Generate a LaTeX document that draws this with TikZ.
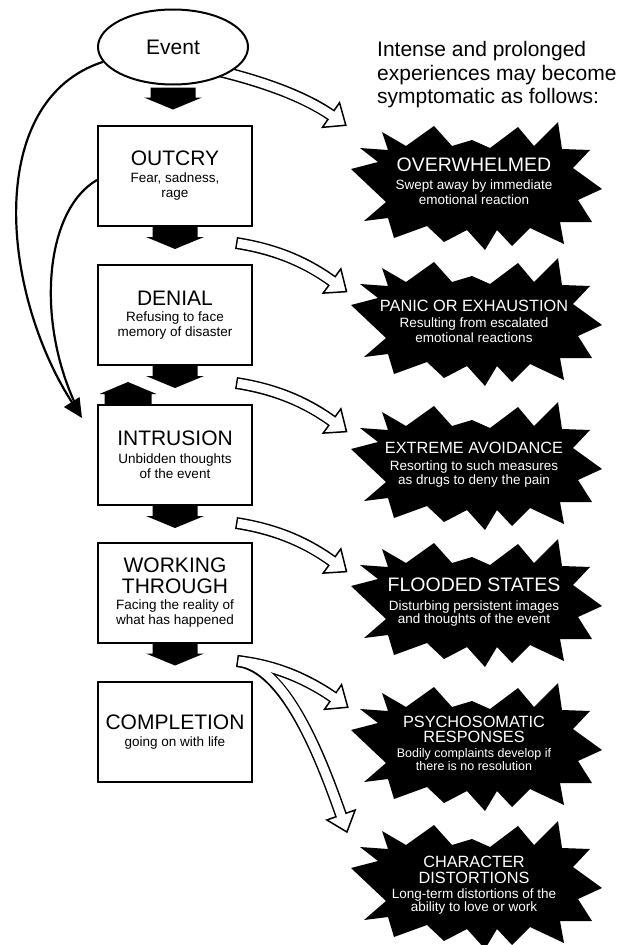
\documentclass[tikz,border=0pt]{standalone}
\usepackage{fontspec}
\setmainfont{Liberation Sans}
\usetikzlibrary{shapes.geometric,arrows.meta,calc}
\newcommand\ttlfont{\fontsize{21}{21}\selectfont}
\newcommand\sbfont{\fontsize{13.5}{15}\selectfont\lineskiplimit=-100pt\relax}
\newcommand\btsmall{\fontsize{16.3}{16}\selectfont}
\newcommand\btbig{\fontsize{19.5}{19}\selectfont}
\newcommand\bsfont{\fontsize{13.5}{14.5}\selectfont\lineskiplimit=-100pt\relax}
\newcommand\bssmall{\fontsize{12.5}{14}\selectfont}
\newcommand\hdrfont{\fontsize{21}{23.5}\selectfont\lineskiplimit=-100pt\relax}
\newcommand\dnarrow[1]{\fill[shift={(#1)}] (-22.5,0) -- (22.5,0) -- (22.5,10) -- (29,10) -- (0,22) -- (-29,10) -- (-22.5,10) -- cycle;}
\newcommand\uparrowblk[1]{\fill[shift={(#1)}] (-23.5,0) -- (23.5,0) -- (23.5,-10) -- (28.5,-10) -- (0,-22) -- (-28.5,-10) -- (-23.5,-10) -- cycle;}
\newcommand\burstshape[1]{\fill[shift={(#1)}] (-90,-54) -- (-66,-40) -- (-38,-60) -- (-20,-40) -- (0,-46) -- (18,-38) -- (46,-59) -- (62,-40) -- (86,-64) -- (90,-37) -- (118,-36) -- (101,-18) -- (130,3) -- (106,14) -- (120,36) -- (88,36) -- (92,58) -- (58,42) -- (40,60) -- (25,44) -- (13,64) -- (-5,44) -- (-28,56) -- (-45,40) -- (-78,52) -- (-84,32) -- (-108,35) -- (-86,16) -- (-121,-17) -- (-94,-24) -- (-112,-38) -- (-84,-36) -- cycle;}
\newcommand\hollowhead[2]{\filldraw[hhead] ($(#1)!15pt!90:(#2)$) -- ($(#1)!18pt!180:(#2)$) -- ($(#1)!15pt!-90:(#2)$) -- cycle;}
\begin{document}
\begin{tikzpicture}[x=1pt,y=-1pt,
  stage/.style={draw, line width=2pt, minimum width=154pt, minimum height=100pt, inner sep=0pt, align=center, font=\sbfont},
  btext/.style={text=white, align=center, inner sep=0pt, font=\bsfont},
  lcurve/.style={line width=2.2pt},
  hband/.style={line width=12pt, black},
  hinner/.style={line width=9pt, white},
  hhead/.style={fill=white, draw=black, line width=1.5pt, line join=miter},
]
\useasboundingbox (0,0) rectangle (627,945);

% hollow arrow end points
\coordinate (h1t) at (215,70);  \coordinate (h1b) at (331,115);
\coordinate (h2t) at (236,243); \coordinate (h2b) at (332,281);
\coordinate (h3t) at (236,383); \coordinate (h3b) at (332,421);
\coordinate (h4t) at (236,523); \coordinate (h4b) at (332,561);
\coordinate (h5t) at (237,661); \coordinate (h5b) at (333,697);
\coordinate (h6b) at (341,815);

% outer bands
\draw[hband] (h1t) .. controls (265,82) and (305,97) .. (h1b);
\draw[hband] (h2t) .. controls (275,249) and (306,262) .. (h2b);
\draw[hband] (h3t) .. controls (275,389) and (306,402) .. (h3b);
\draw[hband] (h4t) .. controls (275,529) and (306,542) .. (h4b);
\draw[hband] (h5t) .. controls (275,665) and (307,679) .. (h5b);
\draw[hband] (h5t) .. controls (285,666) and (320,755) .. (h6b);
% heads
\hollowhead{h1b}{305,97}
\hollowhead{h2b}{306,262}
\hollowhead{h3b}{306,402}
\hollowhead{h4b}{306,542}
\hollowhead{h5b}{307,679}
\hollowhead{h6b}{320,755}
% inner bands
\draw[hinner, shorten <=1.5pt, shorten >=-2.5pt] (h1t) .. controls (265,82) and (305,97) .. (h1b);
\draw[hinner, shorten <=1.5pt, shorten >=-2.5pt] (h2t) .. controls (275,249) and (306,262) .. (h2b);
\draw[hinner, shorten <=1.5pt, shorten >=-2.5pt] (h3t) .. controls (275,389) and (306,402) .. (h3b);
\draw[hinner, shorten <=1.5pt, shorten >=-2.5pt] (h4t) .. controls (275,529) and (306,542) .. (h4b);
\draw[hinner, shorten <=1.5pt, shorten >=-2.5pt] (h5t) .. controls (275,665) and (307,679) .. (h5b);
\draw[hinner, shorten <=1.5pt, shorten >=-2.5pt] (h5t) .. controls (285,666) and (320,755) .. (h6b);

% event
\node[ellipse, draw, fill=white, line width=2pt, minimum width=150pt, minimum height=75pt, inner sep=0pt, font=\ttlfont] (ev) at (173,47) {Event};

% header
\node[anchor=north west, align=left, inner sep=0pt, font=\hdrfont] (hdr) at (377,41.5)
  {Intense and prolonged\\experiences may become\\symptomatic as follows:};

% stages
\node[stage] (outcry) at (175,176) {{\ttlfont OUTCRY}\\[2pt]Fear, sadness,\\rage};
\node[stage] (denial) at (175,315) {{\ttlfont DENIAL}\\[1pt]Refusing to face\\memory of disaster};
\node[stage] (intr) at (175,455) {{\ttlfont INTRUSION}\\[3pt]Unbidden thoughts\\of the event};
\node[stage] (work) at (175,592.5) {{\ttlfont WORKING}\\[6pt]{\ttlfont THROUGH}\\[1pt]Facing the reality of\\what has happened};
\node[stage] (compl) at (175,732) {{\ttlfont COMPLETION}\\[2pt]going on with life};

% block arrows
\dnarrow{[yshift=-2pt]ev.south}
\dnarrow{outcry.south}
\dnarrow{denial.south}
\dnarrow{intr.south}
\dnarrow{work.south}
\uparrowblk{[xshift=-47pt]intr.north}

% left curved arrows
\coordinate (tipL) at (82,418);
\draw[lcurve, -{Triangle[length=19pt,width=18pt]}] (ev.192) .. controls (-15,100) and (0,290) .. (tipL);
\draw[lcurve, shorten >=12pt] ([yshift=-4pt]outcry.west) .. controls (45,210) and (35,320) .. (tipL);

% bursts
\burstshape{472,186}
\burstshape{472,322}
\burstshape{472,466}
\burstshape{472,603}
\burstshape{472,747}
\burstshape{472,885}
\node[btext] (b1) at (474,181) {{\btbig OVERWHELMED}\\[4pt]Swept away by immediate\\emotional reaction};
\node[btext] (b2) at (474,321) {{\btsmall PANIC OR EXHAUSTION}\\[2pt]Resulting from escalated\\emotional reactions};
\node[btext] (b3) at (474,465) {{\btsmall EXTREME AVOIDANCE}\\[2pt]Resorting to such measures\\as drugs to deny the pain};
\node[btext] (b4) at (474,602) {{\btbig FLOODED STATES}\\[4pt]Disturbing persistent images\\[-1.5pt]and thoughts of the event};
\node[btext] (b5) at (474,743) {{\btsmall PSYCHOSOMATIC}\\[0.5pt]{\btsmall RESPONSES}\\[1pt]{\bssmall Bodily complaints develop if}\\[-2pt]{\bssmall there is no resolution}};
\node[btext] (b6) at (474,885) {{\btsmall CHARACTER}\\[1.5pt]{\btsmall DISTORTIONS}\\[0pt]Long-term distortions of the\\[-1.5pt]ability to love or work};
\end{tikzpicture}
\end{document}
